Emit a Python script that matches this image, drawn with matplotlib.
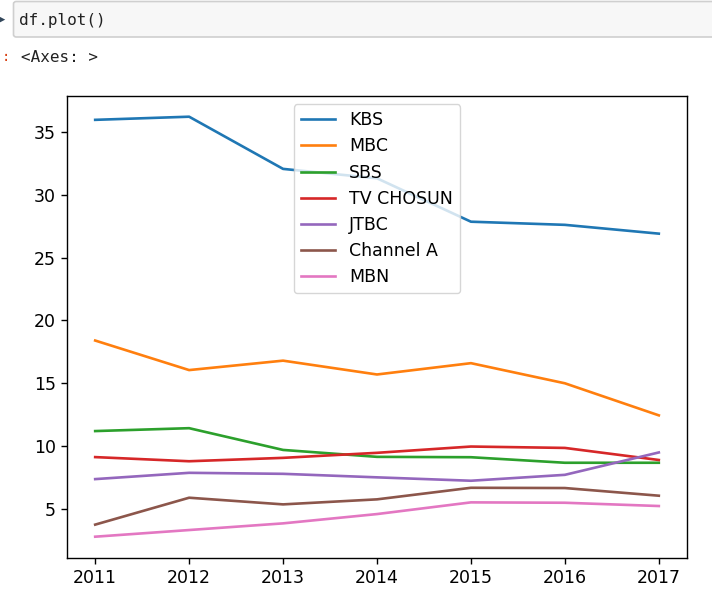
import matplotlib
matplotlib.use("Agg")
import matplotlib.pyplot as plt
from matplotlib.patches import FancyBboxPatch

years = [2011, 2012, 2013, 2014, 2015, 2016, 2017]
kbs = [35.95, 36.2, 32.05, 31.3, 27.85, 27.6, 26.9]
mbc = [18.4, 16.05, 16.8, 15.7, 16.6, 15.0, 12.45]
sbs = [11.2, 11.43, 9.7, 9.15, 9.12, 8.68, 8.68]
tvchosun = [9.13, 8.8, 9.07, 9.47, 9.97, 9.86, 8.9]
jtbc = [7.38, 7.88, 7.8, 7.52, 7.25, 7.72, 9.5]
channela = [3.76, 5.9, 5.37, 5.77, 6.69, 6.67, 6.06]
mbn = [2.8, 3.33, 3.86, 4.6, 5.53, 5.5, 5.24]

series = [("KBS", kbs), ("MBC", mbc), ("SBS", sbs), ("TV CHOSUN", tvchosun),
          ("JTBC", jtbc), ("Channel A", channela), ("MBN", mbn)]

W, H = 712, 602
fig = plt.figure(figsize=(W / 100, H / 100), dpi=100)
fig.patch.set_facecolor("white")

# notebook input cell box
box = FancyBboxPatch((13.5 / W, 1 - 37 / H), (W + 10) / W, 35.5 / H,
                     boxstyle="round,pad=0,rounding_size=0.004",
                     transform=fig.transFigure, facecolor="#f7f7f7",
                     edgecolor="#cfcfcf", linewidth=1.2)
fig.patches.append(box)
fig.text(19 / W, 1 - 20 / H, "df.plot()", fontsize=11.5, family="DejaVu Sans Mono",
         va="center", ha="left", color="#222222")
fig.text(-1 / W, 1 - 20 / H, "\u25b8", fontsize=9, va="center", ha="left", color="#33475b")
fig.text(2 / W, 1 - 57 / H, ":", fontsize=10, family="DejaVu Sans Mono",
         va="center", ha="left", color="#d84315")
fig.text(21 / W, 1 - 57 / H, "<Axes: >", fontsize=11.5, family="DejaVu Sans Mono",
         va="center", ha="left", color="#222222")

ax = fig.add_axes([67 / W, 1 - 557.7 / H, (687 - 67) / W, (557.7 - 95.7) / H])
for name, vals in series:
    ax.plot(years, vals, label=name, linewidth=1.9)

ax.tick_params(labelsize=12.5, length=4.5, width=1)
for s in ax.spines.values():
    s.set_linewidth(1.0)
ax.set_xticks(years)
ax.set_xticklabels([str(y) for y in years])
ax.legend(loc="upper center", fontsize=12.5, handlelength=2.0, labelspacing=0.47,
          borderpad=0.4)

fig.savefig("out.png", dpi=100)
